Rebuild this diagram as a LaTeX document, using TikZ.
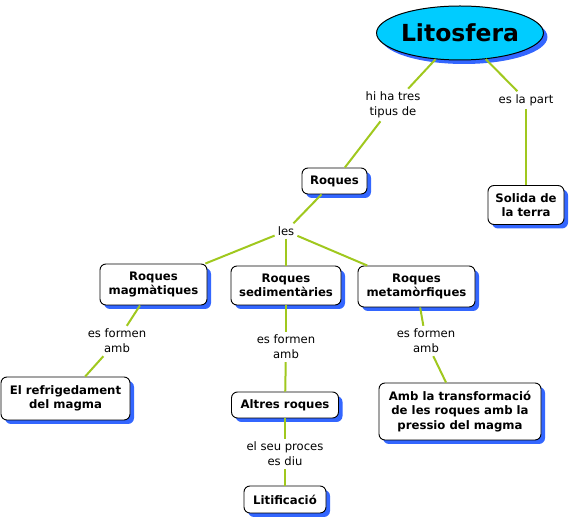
\documentclass[tikz,border=0pt]{standalone}
\usepackage{fontspec}
\setmainfont{DejaVu Sans}
\usetikzlibrary{shadows,shapes.geometric}
\definecolor{conngreen}{RGB}{160,200,30}
\definecolor{shblue}{RGB}{51,102,255}
\definecolor{litcyan}{RGB}{0,204,255}
\begin{document}
\begin{tikzpicture}[x=1pt,y=-1pt,
  box/.style={draw, rounded corners=6pt, fill=white, line width=0.9pt,
    font=\fontsize{11.7}{14.5}\selectfont\bfseries, align=center, inner sep=0pt,
    general shadow={fill=shblue, shadow xshift=4pt, shadow yshift=-4pt}},
  lbl/.style={font=\fontsize{11.6}{15}\selectfont, align=center, inner sep=3pt},
  conn/.style={draw=conngreen, line width=2pt}]
\useasboundingbox (0,0) rectangle (571,518);
\node[ellipse, draw, line width=1pt, fill=litcyan, minimum width=140pt, minimum height=54pt,
  inner sep=0pt, font=\fontsize{23.5}{26}\selectfont\bfseries,
  general shadow={fill=shblue, shadow xshift=4pt, shadow yshift=-4pt}] (lit) at (460,33) {Litosfera};
\node[lbl] (l1) at (393,105) {hi ha tres\\tipus de};
\node[lbl] (l2) at (526,100) {es la part};
\node[box, minimum width=65pt, minimum height=26pt] (roq) at (334.5,181) {Roques};
\node[box, minimum width=76pt, minimum height=39pt] (sol) at (526,205) {Solida de\\ la terra};
\node[lbl] (les) at (286,231) {les};
\node[box, minimum width=107pt, minimum height=41pt] (mag) at (153.5,284.5) {Roques\\magmàtiques};
\node[box, minimum width=110pt, minimum height=39pt] (sed) at (286,285.5) {Roques\\sedimentàries};
\node[box, minimum width=117pt, minimum height=41pt] (met) at (416.5,286.5) {Roques\\metamòrfiques};
\node[lbl] (f1) at (117,341) {es formen\\amb};
\node[lbl] (f2) at (286,347) {es formen\\amb};
\node[lbl] (f3) at (426,341) {es formen\\amb};
\node[box, minimum width=129pt, minimum height=43pt] (ref) at (65.5,398.5) {El refrigedament\\del magma};
\node[box, minimum width=107pt, minimum height=26pt] (alt) at (285,405) {Altres roques};
\node[box, minimum width=162pt, minimum height=57pt] (amb) at (460,411.5) {Amb la transformació\\de les roques amb la\\pressio del magma};
\node[lbl] (l3) at (285,454) {el seu proces\\es diu};
\node[box, minimum width=82pt, minimum height=27pt] (lit2) at (285,499.5) {Litificació};
\draw[conn] (lit) -- (l1);
\draw[conn] (l1) -- (roq);
\draw[conn] (lit) -- (l2);
\draw[conn] (l2) -- (sol);
\draw[conn] (roq) -- (les);
\draw[conn] (les) -- (mag);
\draw[conn] (les) -- (sed);
\draw[conn] (les) -- (met);
\draw[conn] (mag) -- (f1);
\draw[conn] (f1) -- (ref);
\draw[conn] (sed) -- (f2);
\draw[conn] (f2) -- (alt);
\draw[conn] (met) -- (f3);
\draw[conn] (f3) -- (amb);
\draw[conn] (alt) -- (l3);
\draw[conn] (l3) -- (lit2);
\end{tikzpicture}
\end{document}
